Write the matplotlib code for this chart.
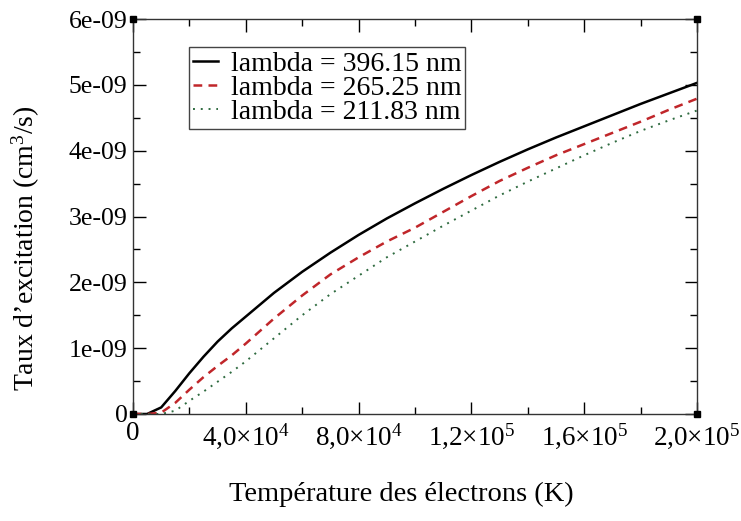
import numpy as np
import matplotlib
matplotlib.use('Agg')
import matplotlib.pyplot as plt
from matplotlib.ticker import MultipleLocator, FuncFormatter

plt.rcParams.update({
    'font.family': 'serif',
    'font.serif': ['Liberation Serif', 'DejaVu Serif'],
    'mathtext.fontset': 'custom',
    'mathtext.rm': 'Liberation Serif',
    'mathtext.it': 'Liberation Serif:italic',
})

# electron temperature (K)
temp = [0, 0.5e4, 1.0e4, 1.5e4, 2.0e4, 2.5e4, 3.0e4, 3.5e4, 4.0e4, 5.0e4,
        6.0e4, 7.0e4, 8.0e4, 9.0e4, 10.0e4, 11.0e4, 12.0e4, 13.0e4, 14.0e4,
        15.0e4, 16.0e4, 17.0e4, 18.0e4, 19.0e4, 20.0e4]

# excitation rates (cm^3/s)
rate_396 = [0, 0.0, 0.10e-9, 0.35e-9, 0.62e-9, 0.87e-9, 1.10e-9, 1.30e-9, 1.48e-9, 1.84e-9,
            2.16e-9, 2.45e-9, 2.72e-9, 2.97e-9, 3.20e-9, 3.42e-9, 3.63e-9, 3.83e-9, 4.02e-9,
            4.20e-9, 4.37e-9, 4.54e-9, 4.71e-9, 4.87e-9, 5.03e-9]
rate_265 = [0, 0.0, 0.02e-9, 0.17e-9, 0.37e-9, 0.56e-9, 0.73e-9, 0.89e-9, 1.07e-9, 1.45e-9,
            1.80e-9, 2.12e-9, 2.38e-9, 2.62e-9, 2.83e-9, 3.07e-9, 3.31e-9, 3.54e-9, 3.74e-9,
            3.93e-9, 4.10e-9, 4.27e-9, 4.44e-9, 4.62e-9, 4.79e-9]
rate_211 = [0, 0.0, 0.0, 0.05e-9, 0.20e-9, 0.34e-9, 0.49e-9, 0.64e-9, 0.80e-9, 1.15e-9,
            1.50e-9, 1.82e-9, 2.10e-9, 2.38e-9, 2.62e-9, 2.86e-9, 3.09e-9, 3.32e-9, 3.53e-9,
            3.73e-9, 3.93e-9, 4.12e-9, 4.30e-9, 4.46e-9, 4.61e-9]

labels = ['lambda = 396.15 nm', 'lambda = 265.25 nm', 'lambda = 211.83 nm']

fig = plt.figure(figsize=(7.41, 5.21), dpi=100)
ax = fig.add_axes([0.1795, 0.2054, 0.7611, 0.7581])

ax.plot(temp, rate_396, color='black', lw=1.8, label=labels[0])
ax.plot(temp, rate_265, color='#c0262a', lw=1.8, ls=(0, (3.5, 2.5)), label=labels[1])
ax.plot(temp, rate_211, color='#2f6b40', lw=1.4, ls=(0, (1, 3)), label=labels[2])

ax.set_xlim(0, 2.0e5)
ax.set_ylim(0, 6e-9)

ax.xaxis.set_major_locator(MultipleLocator(4e4))
ax.xaxis.set_minor_locator(MultipleLocator(2e4))
ax.yaxis.set_major_locator(MultipleLocator(1e-9))
ax.yaxis.set_minor_locator(MultipleLocator(0.5e-9))


def xfmt(v, pos):
    if abs(v) < 1:
        return '0'
    if v < 0:
        return ''
    exp = int(np.floor(np.log10(v)))
    mant = v / 10**exp
    return '%s×10$^{%d}$' % (('%.1f' % mant).replace('.', ','), exp)


def yfmt(v, pos):
    if abs(v) < 1e-15:
        return '0'
    return '%de-09' % round(v / 1e-9)


ax.xaxis.set_major_formatter(FuncFormatter(xfmt))
ax.yaxis.set_major_formatter(FuncFormatter(yfmt))

ax.tick_params(which='both', direction='in', top=True, right=True)
ax.tick_params(axis='x', labelsize=19.5, pad=5)
ax.tick_params(axis='y', labelsize=18.5, pad=4)
ax.tick_params(which='major', length=9, width=1)
ax.tick_params(which='minor', length=5, width=1)
for sp in ax.spines.values():
    sp.set_linewidth(1.0)
    sp.set_color('#333333')

# small corner squares like the original grace output
xl, yl = ax.get_xlim(), ax.get_ylim()
ax.plot([xl[0], xl[1], xl[0], xl[1]], [yl[0], yl[0], yl[1], yl[1]], 's',
        color='black', ms=5, clip_on=False, zorder=5)

ax.set_xlabel('Température des électrons (K)', fontsize=20.5)
ax.set_ylabel("Taux d’excitation (cm$^3$/s)", fontsize=20)
ax.xaxis.set_label_coords(0.475, -0.172)
ax.yaxis.set_label_coords(-0.161, 0.42)

leg = ax.legend(loc='upper left', bbox_to_anchor=(0.099, 0.928), fontsize=20,
                handlelength=0.9, handletextpad=0.45, borderpad=0.15,
                labelspacing=-0.05, borderaxespad=0, fancybox=False, framealpha=1)
leg.get_frame().set_edgecolor('#444444')
leg.get_frame().set_linewidth(1.0)

fig.savefig('out.png', dpi=100)
